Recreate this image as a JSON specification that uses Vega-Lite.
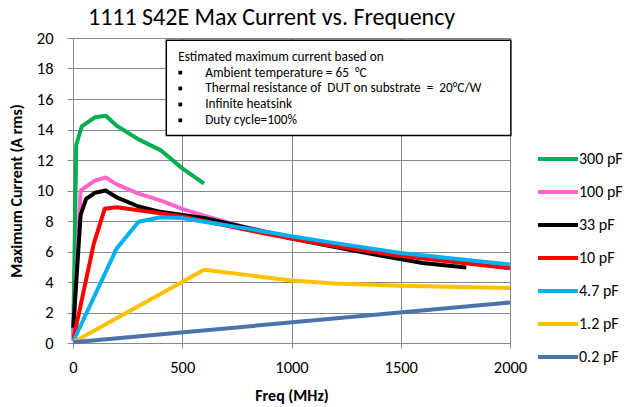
{
  "$schema": "https://vega.github.io/schema/vega-lite/v6.json",
  "width": 437,
  "height": 305,
  "autosize": {"type": "none"},
  "padding": {"left": 73, "top": 38, "right": 126, "bottom": 64},
  "background": "white",
  "title": {
    "text": "1111 S42E Max Current vs. Frequency",
    "font": "Carlito, Lato, sans-serif",
    "fontSize": 24,
    "fontWeight": "normal",
    "color": "black",
    "anchor": "start",
    "frame": "group",
    "dx": 15,
    "dy": 27,
    "baseline": "alphabetic",
    "offset": 8
  },
  "config": {
    "view": {"stroke": null},
    "font": "Carlito, Lato, sans-serif",
    "axis": {
      "gridColor": "#888888",
      "gridWidth": 1,
      "gridOpacity": 1,
      "domainColor": "#888888",
      "tickColor": "#888888",
      "labelColor": "black",
      "labelFontSize": 16.5,
      "labelFont": "Carlito, Lato, sans-serif",
      "labelOverlap": false,
      "labelFlush": false,
      "titleFont": "Carlito, Lato, sans-serif",
      "titleFontSize": 16,
      "titleFontWeight": "bold",
      "titleColor": "black",
      "tickCount": 20
    }
  },
  "datasets": {
    "curves": [
      {"series": "300 pF", "freq": 1, "current": 0.5},
      {"series": "300 pF", "freq": 15, "current": 13.0},
      {"series": "300 pF", "freq": 40, "current": 14.2},
      {"series": "300 pF", "freq": 100, "current": 14.8},
      {"series": "300 pF", "freq": 150, "current": 14.9},
      {"series": "300 pF", "freq": 200, "current": 14.25},
      {"series": "300 pF", "freq": 300, "current": 13.35},
      {"series": "300 pF", "freq": 400, "current": 12.65},
      {"series": "300 pF", "freq": 500, "current": 11.45},
      {"series": "300 pF", "freq": 600, "current": 10.45},
      {"series": "100 pF", "freq": 1, "current": 0.3},
      {"series": "100 pF", "freq": 35, "current": 10.0},
      {"series": "100 pF", "freq": 100, "current": 10.65},
      {"series": "100 pF", "freq": 150, "current": 10.85},
      {"series": "100 pF", "freq": 200, "current": 10.4},
      {"series": "100 pF", "freq": 300, "current": 9.8},
      {"series": "100 pF", "freq": 400, "current": 9.35},
      {"series": "100 pF", "freq": 500, "current": 8.8},
      {"series": "100 pF", "freq": 600, "current": 8.35},
      {"series": "100 pF", "freq": 800, "current": 7.55},
      {"series": "100 pF", "freq": 1000, "current": 6.95},
      {"series": "33 pF", "freq": 1, "current": 1.0},
      {"series": "33 pF", "freq": 35, "current": 8.4},
      {"series": "33 pF", "freq": 60, "current": 9.45},
      {"series": "33 pF", "freq": 100, "current": 9.85},
      {"series": "33 pF", "freq": 150, "current": 10.0},
      {"series": "33 pF", "freq": 200, "current": 9.55},
      {"series": "33 pF", "freq": 300, "current": 8.95},
      {"series": "33 pF", "freq": 400, "current": 8.6},
      {"series": "33 pF", "freq": 500, "current": 8.4},
      {"series": "33 pF", "freq": 600, "current": 8.2},
      {"series": "33 pF", "freq": 800, "current": 7.55},
      {"series": "33 pF", "freq": 1000, "current": 6.85},
      {"series": "33 pF", "freq": 1200, "current": 6.3},
      {"series": "33 pF", "freq": 1400, "current": 5.75},
      {"series": "33 pF", "freq": 1600, "current": 5.25},
      {"series": "33 pF", "freq": 1800, "current": 4.95},
      {"series": "10 pF", "freq": 1, "current": 0.2},
      {"series": "10 pF", "freq": 95, "current": 6.5},
      {"series": "10 pF", "freq": 145, "current": 8.8},
      {"series": "10 pF", "freq": 200, "current": 8.9},
      {"series": "10 pF", "freq": 300, "current": 8.7},
      {"series": "10 pF", "freq": 400, "current": 8.5},
      {"series": "10 pF", "freq": 500, "current": 8.3},
      {"series": "10 pF", "freq": 600, "current": 8.0},
      {"series": "10 pF", "freq": 800, "current": 7.4},
      {"series": "10 pF", "freq": 1000, "current": 6.85},
      {"series": "10 pF", "freq": 1200, "current": 6.35},
      {"series": "10 pF", "freq": 1500, "current": 5.7},
      {"series": "10 pF", "freq": 2000, "current": 4.9},
      {"series": "4.7 pF", "freq": 1, "current": 0.1},
      {"series": "4.7 pF", "freq": 200, "current": 6.2},
      {"series": "4.7 pF", "freq": 300, "current": 7.95},
      {"series": "4.7 pF", "freq": 400, "current": 8.25},
      {"series": "4.7 pF", "freq": 500, "current": 8.2},
      {"series": "4.7 pF", "freq": 600, "current": 7.95},
      {"series": "4.7 pF", "freq": 800, "current": 7.5},
      {"series": "4.7 pF", "freq": 1000, "current": 7.0},
      {"series": "4.7 pF", "freq": 1200, "current": 6.55},
      {"series": "4.7 pF", "freq": 1500, "current": 5.9},
      {"series": "4.7 pF", "freq": 2000, "current": 5.15},
      {"series": "1.2 pF", "freq": 1, "current": 0.05},
      {"series": "1.2 pF", "freq": 600, "current": 4.8},
      {"series": "1.2 pF", "freq": 800, "current": 4.45},
      {"series": "1.2 pF", "freq": 1000, "current": 4.1},
      {"series": "1.2 pF", "freq": 1200, "current": 3.9},
      {"series": "1.2 pF", "freq": 1500, "current": 3.75},
      {"series": "1.2 pF", "freq": 2000, "current": 3.6},
      {"series": "0.2 pF", "freq": 1, "current": 0.05},
      {"series": "0.2 pF", "freq": 2000, "current": 2.65}
    ],
    "box": [{"x1": 427, "x2": 2004, "y1": 13.6, "y2": 19.85}],
    "notes": [
      {"tx": 482, "ty": 18.78, "label": "Estimated maximum current based on"},
      {"tx": 605, "ty": 17.73, "label": "Ambient temperature = 65\u00a0 °C"},
      {"tx": 605, "ty": 16.69, "label": "Thermal resistance of\u00a0 DUT on substrate\u00a0 =\u00a0 20°C/W"},
      {"tx": 605, "ty": 15.64, "label": "Infinite heatsink"},
      {"tx": 605, "ty": 14.6, "label": "Duty cycle=100%"}
    ],
    "bullets": [
      {"bx": 491, "by": 17.73},
      {"bx": 491, "by": 16.69},
      {"bx": 491, "by": 15.64},
      {"bx": 491, "by": 14.6}
    ]
  },
  "layer": [
    {
      "data": {"name": "curves"},
      "mark": {"type": "line", "strokeWidth": 4, "strokeJoin": "round", "strokeCap": "butt"},
      "encoding": {
        "x": {
          "field": "freq", "type": "quantitative",
          "scale": {"domain": [0, 2000], "nice": false},
          "axis": {"values": [0, 500, 1000, 1500, 2000], "tickCount": 20, "format": "d", "title": "Freq (MHz)", "tickSize": 5, "labelPadding": 11, "titlePadding": 12}
        },
        "y": {
          "field": "current", "type": "quantitative",
          "scale": {"domain": [0, 20], "nice": false},
          "axis": {"values": [0, 2, 4, 6, 8, 10, 12, 14, 16, 18, 20], "tickCount": 20, "format": "d", "title": "Maximum Current (A rms)", "tickSize": 6, "labelPadding": 14, "titlePadding": 12}
        },
        "color": {
          "field": "series", "type": "nominal",
          "scale": {
            "domain": ["300 pF", "100 pF", "33 pF", "10 pF", "4.7 pF", "1.2 pF", "0.2 pF"],
            "range": ["#00B050", "#FF66CC", "#000000", "#FF0000", "#00B0F0", "#FFC000", "#4A72AB"]
          },
          "legend": {
            "orient": "none",
            "legendX": 473,
            "legendY": 109,
            "title": null,
            "symbolType": "M-2,0H2",
            "symbolSize": 400,
            "symbolStrokeWidth": 4,
            "labelFontSize": 16,
            "labelColor": "black",
            "labelOffset": 9,
            "rowPadding": 13
          }
        }
      }
    },
    {
      "data": {"name": "box"},
      "mark": {"type": "rect", "fill": "white", "stroke": "black", "strokeWidth": 1.5, "clip": false},
      "encoding": {
        "x": {"field": "x1", "type": "quantitative"},
        "x2": {"field": "x2"},
        "y": {"field": "y1", "type": "quantitative"},
        "y2": {"field": "y2"}
      }
    },
    {
      "data": {"name": "notes"},
      "mark": {"type": "text", "align": "left", "baseline": "middle", "fontSize": 13.3, "color": "black"},
      "encoding": {
        "x": {"field": "tx", "type": "quantitative"},
        "y": {"field": "ty", "type": "quantitative"},
        "text": {"field": "label"}
      }
    },
    {
      "data": {"name": "bullets"},
      "mark": {"type": "square", "size": 14, "filled": true, "color": "black", "opacity": 1},
      "encoding": {
        "x": {"field": "bx", "type": "quantitative"},
        "y": {"field": "by", "type": "quantitative"}
      }
    }
  ]
}
